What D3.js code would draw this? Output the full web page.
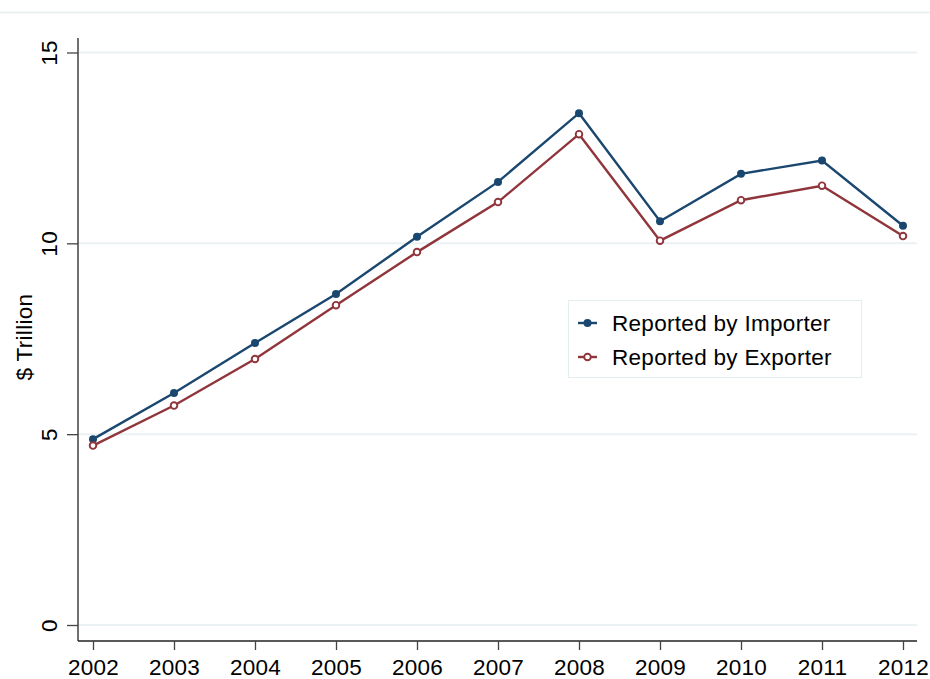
<!DOCTYPE html>
<html><head><meta charset="utf-8">
<script src="https://cdn.jsdelivr.net/npm/d3@7"></script>
<style>body{margin:0;background:#fff}svg{display:block;font-family:"Liberation Sans",Arial,sans-serif}</style>
</head><body><svg id="c" width="930" height="679"></svg>
<script>
const years = [2002,2003,2004,2005,2006,2007,2008,2009,2010,2011,2012];
const importer = [4.87,6.08,7.39,8.67,10.17,11.61,13.41,10.58,11.82,12.17,10.46];
const exporter = [4.70,5.75,6.97,8.38,9.77,11.08,12.86,10.07,11.13,11.51,10.19];
const yTicks = [0,5,10,15];
const seriesNames = ["Reported by Importer","Reported by Exporter"];
const colors = ["#1a476f","#90353b"];

(function(){
const svg = d3.select("#c");
const x = d3.scaleLinear().domain([2002,2012]).range([93,903]);
const y = d3.scaleLinear().domain([0,15]).range([625,52.5]);
const pLeft = 78, pRight = 917, pBottom = 641, pTop = 38;
const fs = 22.5;

svg.append("line").attr("x1",0).attr("x2",930).attr("y1",12.5).attr("y2",12.5)
  .attr("stroke","#e8eef0").attr("stroke-width",1.5);

// grid
svg.append("g").selectAll("line").data(yTicks).join("line")
  .attr("x1",pLeft).attr("x2",pRight).attr("y1",d=>y(d)).attr("y2",d=>y(d))
  .attr("stroke","#eaf2f3").attr("stroke-width",2);

// y axis
const ya = svg.append("g").attr("transform",`translate(${pLeft},0)`)
  .call(d3.axisLeft(y).tickValues(yTicks).tickSize(11).tickSizeOuter(0).tickFormat(d3.format("d")));
ya.select(".domain").attr("d",`M0,${pTop}V${pBottom}`).attr("stroke","#222").attr("stroke-width",1.3);
ya.selectAll(".tick line").attr("stroke","#444").attr("stroke-width",1.3);
ya.selectAll(".tick text").attr("font-size",fs).attr("fill","#000").attr("letter-spacing",0.3)
  .attr("text-anchor","middle").attr("x",0).attr("y",0).attr("dy",0)
  .attr("transform","translate(-21,0) rotate(-90)");

// x axis
const xa = svg.append("g").attr("transform",`translate(0,${pBottom})`)
  .call(d3.axisBottom(x).tickValues(years).tickSize(9).tickSizeOuter(0).tickFormat(d3.format("d")));
xa.select(".domain").attr("d",`M${pLeft},0H${pRight}`).attr("stroke","#222").attr("stroke-width",1.3);
xa.selectAll(".tick line").attr("stroke","#444").attr("stroke-width",1.3);
xa.selectAll(".tick text").attr("font-size",fs).attr("fill","#000").attr("letter-spacing",0.3).attr("y",33.5).attr("dy",0);

svg.append("text").attr("transform","translate(32,337) rotate(-90)").attr("text-anchor","middle")
  .attr("font-size",fs).attr("letter-spacing",0.3).text("$ Trillion");

const line = d3.line().x((d,i)=>x(years[i])).y(d=>y(d));
[importer,exporter].forEach((s,k)=>{
  svg.append("path").datum(s).attr("d",line).attr("fill","none").attr("stroke",colors[k]).attr("stroke-width",2.4);
  svg.append("g").selectAll("circle").data(s).join("circle")
    .attr("cx",(d,i)=>x(years[i])).attr("cy",d=>y(d)).attr("r",k===0?4:3.3)
    .attr("fill",k===0?colors[0]:"#fff").attr("stroke",colors[k]).attr("stroke-width",k===0?0:1.9);
});

// legend
const lg = svg.append("g");
lg.append("rect").attr("x",568.5).attr("y",300.5).attr("width",293).attr("height",77)
  .attr("fill","#fff").attr("stroke","#e4eef0").attr("stroke-width",1);
seriesNames.forEach((n,k)=>{
  const cy = 323 + k*34;
  lg.append("line").attr("x1",578).attr("x2",597).attr("y1",cy).attr("y2",cy).attr("stroke",colors[k]).attr("stroke-width",2.4);
  lg.append("circle").attr("cx",587.5).attr("cy",cy).attr("r",k===0?4:3.3)
    .attr("fill",k===0?colors[0]:"#fff").attr("stroke",colors[k]).attr("stroke-width",k===0?0:1.9);
  lg.append("text").attr("x",612).attr("y",cy+7.5).attr("font-size",fs).attr("letter-spacing",0.3).text(n);
});
})();
</script></body></html>
